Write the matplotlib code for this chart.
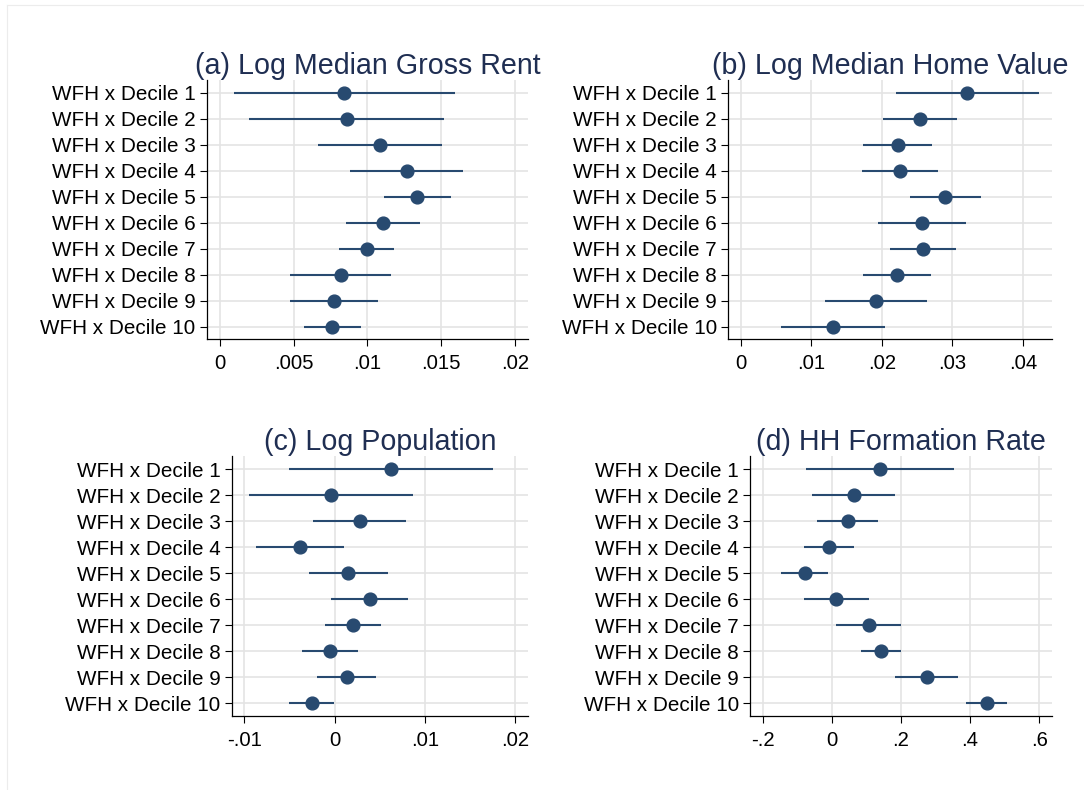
#! /usr/bin/python3

"""
Coefficient plots of WFH x decile interactions, 2x2 panels.
"""

from matplotlib import pyplot as plt
from matplotlib.lines import Line2D
import numpy as np

labels = ["WFH x Decile " + str(i) for i in range(1, 11)]

# (a) Log Median Gross Rent
rent_pt = [0.00842, 0.0086, 0.01086, 0.01267, 0.01339, 0.01104, 0.00995, 0.00819, 0.00771, 0.0076]
rent_lo = [0.00095, 0.00197, 0.00667, 0.00885, 0.01115, 0.00855, 0.00808, 0.00475, 0.00477, 0.00568]
rent_hi = [0.01593, 0.0152, 0.01505, 0.01647, 0.01566, 0.01355, 0.01179, 0.01161, 0.0107, 0.00955]

# (b) Log Median Home Value
home_pt = [0.03211, 0.02545, 0.02224, 0.02257, 0.029, 0.02574, 0.02588, 0.0222, 0.01922, 0.01313]
home_lo = [0.02201, 0.02021, 0.01728, 0.01719, 0.02394, 0.01946, 0.02116, 0.01728, 0.01195, 0.00576]
home_hi = [0.04227, 0.0307, 0.02716, 0.02796, 0.03405, 0.03197, 0.03056, 0.02701, 0.02645, 0.0205]

# (c) Log Population
pop_pt = [0.00621, -0.00037, 0.00277, -0.00388, 0.00151, 0.00392, 0.00203, -0.00048, 0.00137, -0.00255]
pop_lo = [-0.00506, -0.00946, -0.00244, -0.00872, -0.00284, -0.00037, -0.00103, -0.00358, -0.00192, -0.00506]
pop_hi = [0.01748, 0.00865, 0.00791, 0.001, 0.00587, 0.00809, 0.0051, 0.00262, 0.00462, -0.00011]

# (d) HH Formation Rate
hh_pt = [0.1393, 0.0631, 0.0458, -0.0092, -0.0786, 0.012, 0.1065, 0.1431, 0.2742, 0.4487]
hh_lo = [-0.0757, -0.0564, -0.0429, -0.0814, -0.147, -0.0814, 0.013, 0.0843, 0.1817, 0.389]
hh_hi = [0.3523, 0.1817, 0.1325, 0.0631, -0.012, 0.1075, 0.199, 0.201, 0.3639, 0.5075]

rent_ticks = [0, 0.005, 0.01, 0.015, 0.02]
rent_ticklabels = ["0", ".005", ".01", ".015", ".02"]
home_ticks = [0, 0.01, 0.02, 0.03, 0.04]
home_ticklabels = ["0", ".01", ".02", ".03", ".04"]
pop_ticks = [-0.01, 0, 0.01, 0.02]
pop_ticklabels = ["-.01", "0", ".01", ".02"]
hh_ticks = [-0.2, 0, 0.2, 0.4, 0.6]
hh_ticklabels = ["-.2", "0", ".2", ".4", ".6"]

W, H = 1084, 790
NAVY = "#284a70"
TITLE_COLOR = "#1f2e52"
GRID = "#e4e4e4"

plt.rcParams['font.family'] = ['Liberation Sans', 'DejaVu Sans']


def px_axes(fig, left, right, top, bottom):
    """Add axes from pixel edges."""
    return fig.add_axes([left / W, 1 - bottom / H, (right - left) / W, (bottom - top) / H])


def coef_panel(ax, title, pt, lo, hi, ticks, ticklabels, xlim):
    y = np.arange(1, len(pt) + 1)
    for yy in y:
        ax.axhline(yy, color=GRID, lw=1.2, zorder=0)
    for t in ticks:
        ax.axvline(t, color=GRID, lw=1.2, zorder=0)
    ax.hlines(y, lo, hi, color=NAVY, lw=1.5, zorder=2)
    ax.plot(pt, y, 'o', color=NAVY, markersize=9.2, zorder=3)

    ax.set_xlim(xlim)
    ax.set_ylim(10.48, 0.5)
    ax.set_yticks(y)
    ax.set_yticklabels(labels)
    ax.set_xticks(ticks)
    ax.set_xticklabels(ticklabels)
    ax.tick_params(axis='both', length=5, width=0.8, color='black')
    ax.tick_params(axis='y', labelsize=14.9, pad=3)
    ax.tick_params(axis='x', labelsize=14.6, pad=6)
    for s in ['top', 'right']:
        ax.spines[s].set_visible(False)
    for s in ['left', 'bottom']:
        ax.spines[s].set_linewidth(0.9)
        ax.spines[s].set_color('black')
    ax.set_title(title, fontsize=20.6, color=TITLE_COLOR, pad=4.5)


fig = plt.figure(figsize=(W / 100, H / 100), dpi=100)

ax_a = px_axes(fig, 206.7, 528, 80, 339)
coef_panel(ax_a, "(a) Log Median Gross Rent", rent_pt, rent_lo, rent_hi,
           rent_ticks, rent_ticklabels, (-0.0009, 0.0209))

ax_b = px_axes(fig, 728, 1052, 80, 339)
coef_panel(ax_b, "(b) Log Median Home Value", home_pt, home_lo, home_hi,
           home_ticks, home_ticklabels, (-0.0018, 0.0441))

ax_c = px_axes(fig, 231.7, 528, 456, 716)
coef_panel(ax_c, "(c) Log Population", pop_pt, pop_lo, pop_hi,
           pop_ticks, pop_ticklabels, (-0.0114, 0.0214))

ax_d = px_axes(fig, 750, 1052, 456, 716)
coef_panel(ax_d, "(d) HH Formation Rate", hh_pt, hh_lo, hh_hi,
           hh_ticks, hh_ticklabels, (-0.2367, 0.637))

# faint outer frame of the graph region
fig.add_artist(Line2D([7 / W, 7 / W], [0, 1 - 5 / H], color="#ececec", lw=0.8))
fig.add_artist(Line2D([7 / W, 1], [1 - 5 / H, 1 - 5 / H], color="#ececec", lw=0.8))

fig.savefig("out.png", dpi=100)
